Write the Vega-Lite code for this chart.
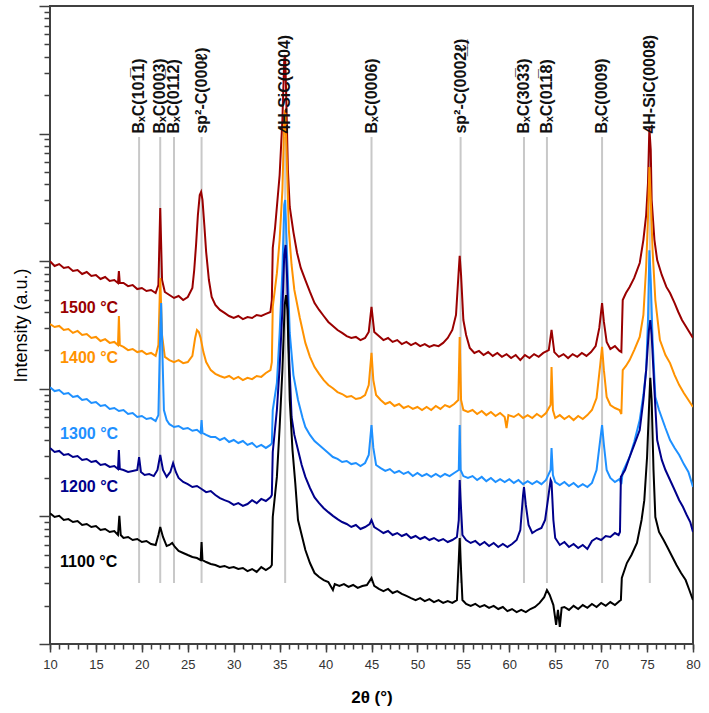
{
"$schema": "https://vega.github.io/schema/vega-lite/v6.json",
"width": 643, "height": 638,
"autosize": {"type": "none"},
"padding": {"left": 50, "top": 6, "right": 16, "bottom": 69},
"background": "white",
"config": {"view": {"stroke": "#404040", "strokeWidth": 2}, "font": "Liberation Sans", "axis": {"grid": false}},
"datasets": {
"curves": [
{"s":"1500 °C","t":10,"v":1000},{"s":"1500 °C","t":10.5,"v":917},{"s":"1500 °C","t":11,"v":950},{"s":"1500 °C","t":11.5,"v":885},{"s":"1500 °C","t":12,"v":901},{"s":"1500 °C","t":12.5,"v":838},{"s":"1500 °C","t":13,"v":853},{"s":"1500 °C","t":13.5,"v":794},{"s":"1500 °C","t":14,"v":823},{"s":"1500 °C","t":14.5,"v":766},{"s":"1500 °C","t":15,"v":780},{"s":"1500 °C","t":15.5,"v":725},{"s":"1500 °C","t":16,"v":752},{"s":"1500 °C","t":16.5,"v":700},{"s":"1500 °C","t":17,"v":712},{"s":"1500 °C","t":17.4,"v":675},{"s":"1500 °C","t":17.5,"v":838},{"s":"1500 °C","t":17.6,"v":675},{"s":"1500 °C","t":18,"v":675},{"s":"1500 °C","t":18.5,"v":638},{"s":"1500 °C","t":19,"v":651},{"s":"1500 °C","t":19.5,"v":605},{"s":"1500 °C","t":20,"v":617},{"s":"1500 °C","t":20.5,"v":584},{"s":"1500 °C","t":21,"v":595},{"s":"1500 °C","t":21.5,"v":563},{"s":"1500 °C","t":21.8,"v":651},{"s":"1500 °C","t":22,"v":2610},{"s":"1500 °C","t":22.2,"v":712},{"s":"1500 °C","t":22.5,"v":574},{"s":"1500 °C","t":23,"v":543},{"s":"1500 °C","t":23.5,"v":515},{"s":"1500 °C","t":24,"v":534},{"s":"1500 °C","t":24.5,"v":496},{"s":"1500 °C","t":25,"v":524},{"s":"1500 °C","t":25.5,"v":617},{"s":"1500 °C","t":25.7,"v":853},{"s":"1500 °C","t":25.9,"v":1340},{"s":"1500 °C","t":26.1,"v":2300},{"s":"1500 °C","t":26.3,"v":3300},{"s":"1500 °C","t":26.45,"v":3490},{"s":"1500 °C","t":26.6,"v":3020},{"s":"1500 °C","t":26.8,"v":1920},{"s":"1500 °C","t":27,"v":1180},{"s":"1500 °C","t":27.3,"v":712},{"s":"1500 °C","t":27.6,"v":524},{"s":"1500 °C","t":28,"v":454},{"s":"1500 °C","t":28.5,"v":415},{"s":"1500 °C","t":29,"v":393},{"s":"1500 °C","t":29.5,"v":372},{"s":"1500 °C","t":30,"v":359},{"s":"1500 °C","t":30.5,"v":372},{"s":"1500 °C","t":31,"v":352},{"s":"1500 °C","t":31.5,"v":365},{"s":"1500 °C","t":32,"v":359},{"s":"1500 °C","t":32.5,"v":379},{"s":"1500 °C","t":33,"v":372},{"s":"1500 °C","t":33.5,"v":386},{"s":"1500 °C","t":34,"v":400},{"s":"1500 °C","t":34.15,"v":496},{"s":"1500 °C","t":34.25,"v":1270},{"s":"1500 °C","t":34.5,"v":1820},{"s":"1500 °C","t":35,"v":4740},{"s":"1500 °C","t":35.3,"v":12800},{"s":"1500 °C","t":35.5,"v":37800},{"s":"1500 °C","t":35.6,"v":41300},{"s":"1500 °C","t":35.7,"v":22000},{"s":"1500 °C","t":35.9,"v":5190},{"s":"1500 °C","t":36.1,"v":2660},{"s":"1500 °C","t":36.5,"v":1690},{"s":"1500 °C","t":36.9,"v":1160},{"s":"1500 °C","t":37.3,"v":885},{"s":"1500 °C","t":37.8,"v":712},{"s":"1500 °C","t":38.3,"v":574},{"s":"1500 °C","t":38.8,"v":470},{"s":"1500 °C","t":39.3,"v":415},{"s":"1500 °C","t":39.8,"v":372},{"s":"1500 °C","t":40.3,"v":334},{"s":"1500 °C","t":40.8,"v":311},{"s":"1500 °C","t":41.3,"v":289},{"s":"1500 °C","t":41.8,"v":274},{"s":"1500 °C","t":42.3,"v":259},{"s":"1500 °C","t":42.8,"v":250},{"s":"1500 °C","t":43.3,"v":255},{"s":"1500 °C","t":43.8,"v":241},{"s":"1500 °C","t":44.3,"v":250},{"s":"1500 °C","t":44.7,"v":279},{"s":"1500 °C","t":45,"v":438},{"s":"1500 °C","t":45.3,"v":279},{"s":"1500 °C","t":45.8,"v":259},{"s":"1500 °C","t":46.3,"v":241},{"s":"1500 °C","t":46.8,"v":250},{"s":"1500 °C","t":47.3,"v":233},{"s":"1500 °C","t":47.8,"v":241},{"s":"1500 °C","t":48.3,"v":224},{"s":"1500 °C","t":48.8,"v":233},{"s":"1500 °C","t":49.3,"v":220},{"s":"1500 °C","t":49.8,"v":229},{"s":"1500 °C","t":50.3,"v":216},{"s":"1500 °C","t":50.8,"v":224},{"s":"1500 °C","t":51.3,"v":213},{"s":"1500 °C","t":51.8,"v":220},{"s":"1500 °C","t":52.3,"v":216},{"s":"1500 °C","t":52.8,"v":229},{"s":"1500 °C","t":53.3,"v":250},{"s":"1500 °C","t":53.8,"v":289},{"s":"1500 °C","t":54.2,"v":379},{"s":"1500 °C","t":54.5,"v":853},{"s":"1500 °C","t":54.6,"v":1100},{"s":"1500 °C","t":54.75,"v":780},{"s":"1500 °C","t":55,"v":346},{"s":"1500 °C","t":55.3,"v":264},{"s":"1500 °C","t":55.7,"v":209},{"s":"1500 °C","t":56.2,"v":191},{"s":"1500 °C","t":56.7,"v":198},{"s":"1500 °C","t":57.2,"v":184},{"s":"1500 °C","t":57.7,"v":194},{"s":"1500 °C","t":58.2,"v":181},{"s":"1500 °C","t":58.7,"v":191},{"s":"1500 °C","t":59.2,"v":178},{"s":"1500 °C","t":59.7,"v":187},{"s":"1500 °C","t":60.2,"v":174},{"s":"1500 °C","t":60.7,"v":184},{"s":"1500 °C","t":61.2,"v":168},{"s":"1500 °C","t":61.7,"v":184},{"s":"1500 °C","t":62.2,"v":174},{"s":"1500 °C","t":62.7,"v":187},{"s":"1500 °C","t":63.2,"v":178},{"s":"1500 °C","t":63.7,"v":191},{"s":"1500 °C","t":64.3,"v":201},{"s":"1500 °C","t":64.6,"v":289},{"s":"1500 °C","t":64.9,"v":194},{"s":"1500 °C","t":65.4,"v":178},{"s":"1500 °C","t":65.9,"v":187},{"s":"1500 °C","t":66.4,"v":174},{"s":"1500 °C","t":66.9,"v":187},{"s":"1500 °C","t":67.4,"v":178},{"s":"1500 °C","t":67.9,"v":191},{"s":"1500 °C","t":68.4,"v":181},{"s":"1500 °C","t":68.9,"v":194},{"s":"1500 °C","t":69.4,"v":216},{"s":"1500 °C","t":69.8,"v":300},{"s":"1500 °C","t":70.1,"v":470},{"s":"1500 °C","t":70.3,"v":334},{"s":"1500 °C","t":70.6,"v":233},{"s":"1500 °C","t":71,"v":205},{"s":"1500 °C","t":71.5,"v":216},{"s":"1500 °C","t":72,"v":198},{"s":"1500 °C","t":72.2,"v":194},{"s":"1500 °C","t":72.35,"v":496},{"s":"1500 °C","t":72.7,"v":563},{"s":"1500 °C","t":73.1,"v":629},{"s":"1500 °C","t":73.6,"v":739},{"s":"1500 °C","t":74.2,"v":968},{"s":"1500 °C","t":74.6,"v":1470},{"s":"1500 °C","t":74.9,"v":2300},{"s":"1500 °C","t":75.1,"v":4100},{"s":"1500 °C","t":75.25,"v":11100},{"s":"1500 °C","t":75.4,"v":7440},{"s":"1500 °C","t":75.5,"v":3020},{"s":"1500 °C","t":75.8,"v":1470},{"s":"1500 °C","t":76.1,"v":1020},{"s":"1500 °C","t":76.6,"v":780},{"s":"1500 °C","t":77.1,"v":629},{"s":"1500 °C","t":77.5,"v":563},{"s":"1500 °C","t":78,"v":470},{"s":"1500 °C","t":78.4,"v":400},{"s":"1500 °C","t":78.8,"v":346},{"s":"1500 °C","t":79.2,"v":311},{"s":"1500 °C","t":79.6,"v":279},{"s":"1500 °C","t":80,"v":250},
{"s":"1400 °C","t":10,"v":322},{"s":"1400 °C","t":10.5,"v":305},{"s":"1400 °C","t":11,"v":311},{"s":"1400 °C","t":11.5,"v":289},{"s":"1400 °C","t":12,"v":294},{"s":"1400 °C","t":12.5,"v":274},{"s":"1400 °C","t":13,"v":284},{"s":"1400 °C","t":13.5,"v":264},{"s":"1400 °C","t":14,"v":269},{"s":"1400 °C","t":14.5,"v":250},{"s":"1400 °C","t":15,"v":255},{"s":"1400 °C","t":15.5,"v":237},{"s":"1400 °C","t":16,"v":245},{"s":"1400 °C","t":16.5,"v":229},{"s":"1400 °C","t":17,"v":233},{"s":"1400 °C","t":17.4,"v":220},{"s":"1400 °C","t":17.5,"v":372},{"s":"1400 °C","t":17.6,"v":220},{"s":"1400 °C","t":18,"v":213},{"s":"1400 °C","t":18.5,"v":201},{"s":"1400 °C","t":19,"v":205},{"s":"1400 °C","t":19.5,"v":194},{"s":"1400 °C","t":20,"v":198},{"s":"1400 °C","t":20.5,"v":187},{"s":"1400 °C","t":21,"v":191},{"s":"1400 °C","t":21.5,"v":181},{"s":"1400 °C","t":21.8,"v":220},{"s":"1400 °C","t":22,"v":739},{"s":"1400 °C","t":22.2,"v":264},{"s":"1400 °C","t":22.5,"v":178},{"s":"1400 °C","t":23,"v":168},{"s":"1400 °C","t":23.5,"v":162},{"s":"1400 °C","t":24,"v":168},{"s":"1400 °C","t":24.5,"v":159},{"s":"1400 °C","t":25,"v":162},{"s":"1400 °C","t":25.5,"v":181},{"s":"1400 °C","t":25.8,"v":250},{"s":"1400 °C","t":26,"v":289},{"s":"1400 °C","t":26.2,"v":279},{"s":"1400 °C","t":26.4,"v":250},{"s":"1400 °C","t":26.7,"v":194},{"s":"1400 °C","t":27,"v":162},{"s":"1400 °C","t":27.5,"v":140},{"s":"1400 °C","t":28,"v":131},{"s":"1400 °C","t":28.5,"v":126},{"s":"1400 °C","t":29,"v":122},{"s":"1400 °C","t":29.5,"v":126},{"s":"1400 °C","t":30,"v":119},{"s":"1400 °C","t":30.5,"v":124},{"s":"1400 °C","t":31,"v":117},{"s":"1400 °C","t":31.5,"v":122},{"s":"1400 °C","t":32,"v":119},{"s":"1400 °C","t":32.5,"v":126},{"s":"1400 °C","t":33,"v":124},{"s":"1400 °C","t":33.5,"v":133},{"s":"1400 °C","t":34,"v":140},{"s":"1400 °C","t":34.15,"v":162},{"s":"1400 °C","t":34.25,"v":438},{"s":"1400 °C","t":34.7,"v":806},{"s":"1400 °C","t":35,"v":1470},{"s":"1400 °C","t":35.3,"v":3620},{"s":"1400 °C","t":35.5,"v":12800},{"s":"1400 °C","t":35.6,"v":15300},{"s":"1400 °C","t":35.75,"v":7440},{"s":"1400 °C","t":36,"v":1760},{"s":"1400 °C","t":36.3,"v":934},{"s":"1400 °C","t":36.6,"v":595},{"s":"1400 °C","t":37.2,"v":359},{"s":"1400 °C","t":37.8,"v":229},{"s":"1400 °C","t":38.3,"v":178},{"s":"1400 °C","t":38.8,"v":148},{"s":"1400 °C","t":39.3,"v":131},{"s":"1400 °C","t":39.8,"v":117},{"s":"1400 °C","t":40.3,"v":107},{"s":"1400 °C","t":40.8,"v":101},{"s":"1400 °C","t":41.3,"v":94.3},{"s":"1400 °C","t":41.8,"v":91.0},{"s":"1400 °C","t":42.3,"v":86.3},{"s":"1400 °C","t":42.8,"v":87.9},{"s":"1400 °C","t":43.3,"v":83.2},{"s":"1400 °C","t":43.8,"v":84.7},{"s":"1400 °C","t":44.3,"v":89.4},{"s":"1400 °C","t":44.7,"v":107},{"s":"1400 °C","t":45,"v":191},{"s":"1400 °C","t":45.2,"v":117},{"s":"1400 °C","t":45.5,"v":89.4},{"s":"1400 °C","t":46,"v":81.7},{"s":"1400 °C","t":46.5,"v":76.0},{"s":"1400 °C","t":47,"v":78.8},{"s":"1400 °C","t":47.5,"v":73.3},{"s":"1400 °C","t":48,"v":76.0},{"s":"1400 °C","t":48.5,"v":70.7},{"s":"1400 °C","t":49,"v":73.3},{"s":"1400 °C","t":49.5,"v":69.5},{"s":"1400 °C","t":50,"v":72.0},{"s":"1400 °C","t":50.5,"v":68.2},{"s":"1400 °C","t":51,"v":72.0},{"s":"1400 °C","t":51.5,"v":68.2},{"s":"1400 °C","t":52,"v":73.3},{"s":"1400 °C","t":52.5,"v":69.5},{"s":"1400 °C","t":53,"v":74.6},{"s":"1400 °C","t":53.5,"v":72.0},{"s":"1400 °C","t":54,"v":76.0},{"s":"1400 °C","t":54.45,"v":81.7},{"s":"1400 °C","t":54.6,"v":255},{"s":"1400 °C","t":54.75,"v":81.7},{"s":"1400 °C","t":55,"v":68.2},{"s":"1400 °C","t":55.5,"v":65.8},{"s":"1400 °C","t":56,"v":68.2},{"s":"1400 °C","t":56.5,"v":63.5},{"s":"1400 °C","t":57,"v":67.0},{"s":"1400 °C","t":57.5,"v":62.2},{"s":"1400 °C","t":58,"v":65.8},{"s":"1400 °C","t":58.5,"v":61.2},{"s":"1400 °C","t":59,"v":64.6},{"s":"1400 °C","t":59.5,"v":60.1},{"s":"1400 °C","t":59.7,"v":49.3},{"s":"1400 °C","t":59.9,"v":62.2},{"s":"1400 °C","t":60.5,"v":60.1},{"s":"1400 °C","t":61,"v":63.5},{"s":"1400 °C","t":61.5,"v":59.0},{"s":"1400 °C","t":62,"v":62.2},{"s":"1400 °C","t":62.5,"v":59.0},{"s":"1400 °C","t":63,"v":63.5},{"s":"1400 °C","t":63.5,"v":60.1},{"s":"1400 °C","t":64,"v":64.6},{"s":"1400 °C","t":64.5,"v":74.6},{"s":"1400 °C","t":64.6,"v":148},{"s":"1400 °C","t":64.75,"v":68.2},{"s":"1400 °C","t":65,"v":59.0},{"s":"1400 °C","t":65.5,"v":62.2},{"s":"1400 °C","t":66,"v":58.0},{"s":"1400 °C","t":66.5,"v":61.2},{"s":"1400 °C","t":67,"v":56.9},{"s":"1400 °C","t":67.5,"v":61.2},{"s":"1400 °C","t":68,"v":58.0},{"s":"1400 °C","t":68.5,"v":62.2},{"s":"1400 °C","t":69,"v":68.2},{"s":"1400 °C","t":69.5,"v":84.7},{"s":"1400 °C","t":69.9,"v":154},{"s":"1400 °C","t":70.1,"v":213},{"s":"1400 °C","t":70.3,"v":140},{"s":"1400 °C","t":70.6,"v":86.3},{"s":"1400 °C","t":71,"v":74.6},{"s":"1400 °C","t":71.5,"v":70.7},{"s":"1400 °C","t":72,"v":68.2},{"s":"1400 °C","t":72.2,"v":63.5},{"s":"1400 °C","t":72.35,"v":140},{"s":"1400 °C","t":72.7,"v":151},{"s":"1400 °C","t":73.1,"v":168},{"s":"1400 °C","t":73.6,"v":201},{"s":"1400 °C","t":74.2,"v":255},{"s":"1400 °C","t":74.6,"v":379},{"s":"1400 °C","t":74.9,"v":901},{"s":"1400 °C","t":75.1,"v":2190},{"s":"1400 °C","t":75.25,"v":5470},{"s":"1400 °C","t":75.4,"v":3020},{"s":"1400 °C","t":75.6,"v":1220},{"s":"1400 °C","t":75.9,"v":496},{"s":"1400 °C","t":76.4,"v":241},{"s":"1400 °C","t":77,"v":184},{"s":"1400 °C","t":77.5,"v":159},{"s":"1400 °C","t":78,"v":128},{"s":"1400 °C","t":78.5,"v":107},{"s":"1400 °C","t":79,"v":92.7},{"s":"1400 °C","t":79.5,"v":81.7},{"s":"1400 °C","t":80,"v":72.0},
{"s":"1300 °C","t":10,"v":103},{"s":"1300 °C","t":10.5,"v":96.0},{"s":"1300 °C","t":11,"v":97.8},{"s":"1300 °C","t":11.5,"v":91.0},{"s":"1300 °C","t":12,"v":92.7},{"s":"1300 °C","t":12.5,"v":86.3},{"s":"1300 °C","t":13,"v":87.9},{"s":"1300 °C","t":13.5,"v":81.7},{"s":"1300 °C","t":14,"v":83.2},{"s":"1300 °C","t":14.5,"v":77.4},{"s":"1300 °C","t":15,"v":78.8},{"s":"1300 °C","t":15.5,"v":73.3},{"s":"1300 °C","t":16,"v":74.6},{"s":"1300 °C","t":16.5,"v":69.5},{"s":"1300 °C","t":17,"v":70.7},{"s":"1300 °C","t":17.5,"v":67.0},{"s":"1300 °C","t":18,"v":68.2},{"s":"1300 °C","t":18.5,"v":63.5},{"s":"1300 °C","t":19,"v":64.6},{"s":"1300 °C","t":19.5,"v":60.1},{"s":"1300 °C","t":20,"v":61.2},{"s":"1300 °C","t":20.5,"v":58.0},{"s":"1300 °C","t":21,"v":59.0},{"s":"1300 °C","t":21.5,"v":55.9},{"s":"1300 °C","t":21.8,"v":62.2},{"s":"1300 °C","t":22,"v":289},{"s":"1300 °C","t":22.1,"v":470},{"s":"1300 °C","t":22.2,"v":241},{"s":"1300 °C","t":22.4,"v":68.2},{"s":"1300 °C","t":22.7,"v":56.9},{"s":"1300 °C","t":23,"v":52.8},{"s":"1300 °C","t":23.5,"v":50.2},{"s":"1300 °C","t":24,"v":51.1},{"s":"1300 °C","t":24.5,"v":48.5},{"s":"1300 °C","t":25,"v":49.3},{"s":"1300 °C","t":25.5,"v":46.9},{"s":"1300 °C","t":26,"v":47.7},{"s":"1300 °C","t":26.4,"v":45.1},{"s":"1300 °C","t":26.5,"v":56.9},{"s":"1300 °C","t":26.6,"v":45.1},{"s":"1300 °C","t":27,"v":43.5},{"s":"1300 °C","t":27.5,"v":41.9},{"s":"1300 °C","t":28,"v":41.9},{"s":"1300 °C","t":28.5,"v":39.7},{"s":"1300 °C","t":29,"v":41.2},{"s":"1300 °C","t":29.5,"v":38.3},{"s":"1300 °C","t":30,"v":39.7},{"s":"1300 °C","t":30.5,"v":37.6},{"s":"1300 °C","t":31,"v":39.0},{"s":"1300 °C","t":31.5,"v":36.3},{"s":"1300 °C","t":32,"v":37.6},{"s":"1300 °C","t":32.5,"v":34.9},{"s":"1300 °C","t":33,"v":36.3},{"s":"1300 °C","t":33.5,"v":34.4},{"s":"1300 °C","t":34,"v":36.3},{"s":"1300 °C","t":34.15,"v":37.6},{"s":"1300 °C","t":34.25,"v":68.2},{"s":"1300 °C","t":34.7,"v":111},{"s":"1300 °C","t":35,"v":274},{"s":"1300 °C","t":35.3,"v":853},{"s":"1300 °C","t":35.5,"v":2760},{"s":"1300 °C","t":35.6,"v":3020},{"s":"1300 °C","t":35.75,"v":1470},{"s":"1300 °C","t":36.1,"v":274},{"s":"1300 °C","t":36.5,"v":128},{"s":"1300 °C","t":37,"v":81.7},{"s":"1300 °C","t":37.5,"v":59.0},{"s":"1300 °C","t":37.8,"v":50.2},{"s":"1300 °C","t":38.3,"v":43.5},{"s":"1300 °C","t":38.8,"v":39.0},{"s":"1300 °C","t":39.3,"v":36.3},{"s":"1300 °C","t":39.8,"v":33.8},{"s":"1300 °C","t":40.3,"v":31.4},{"s":"1300 °C","t":40.8,"v":29.2},{"s":"1300 °C","t":41.3,"v":28.2},{"s":"1300 °C","t":41.8,"v":26.7},{"s":"1300 °C","t":42.3,"v":27.2},{"s":"1300 °C","t":42.8,"v":25.7},{"s":"1300 °C","t":43.3,"v":26.2},{"s":"1300 °C","t":43.8,"v":24.8},{"s":"1300 °C","t":44.3,"v":26.2},{"s":"1300 °C","t":44.7,"v":30.3},{"s":"1300 °C","t":45,"v":52.0},{"s":"1300 °C","t":45.2,"v":34.4},{"s":"1300 °C","t":45.5,"v":25.3},{"s":"1300 °C","t":46,"v":23.9},{"s":"1300 °C","t":46.5,"v":22.7},{"s":"1300 °C","t":47,"v":23.5},{"s":"1300 °C","t":47.5,"v":21.9},{"s":"1300 °C","t":48,"v":22.7},{"s":"1300 °C","t":48.5,"v":21.5},{"s":"1300 °C","t":49,"v":22.3},{"s":"1300 °C","t":49.5,"v":20.7},{"s":"1300 °C","t":50,"v":21.9},{"s":"1300 °C","t":50.5,"v":20.7},{"s":"1300 °C","t":51,"v":21.5},{"s":"1300 °C","t":51.5,"v":20.4},{"s":"1300 °C","t":52,"v":21.5},{"s":"1300 °C","t":52.5,"v":20.4},{"s":"1300 °C","t":53,"v":21.5},{"s":"1300 °C","t":53.5,"v":20.7},{"s":"1300 °C","t":54,"v":21.9},{"s":"1300 °C","t":54.5,"v":23.1},{"s":"1300 °C","t":54.6,"v":52.0},{"s":"1300 °C","t":54.7,"v":23.1},{"s":"1300 °C","t":55,"v":20.7},{"s":"1300 °C","t":55.5,"v":20.0},{"s":"1300 °C","t":56,"v":20.7},{"s":"1300 °C","t":56.5,"v":19.3},{"s":"1300 °C","t":57,"v":20.4},{"s":"1300 °C","t":57.5,"v":18.9},{"s":"1300 °C","t":58,"v":20.0},{"s":"1300 °C","t":58.5,"v":18.6},{"s":"1300 °C","t":59,"v":19.6},{"s":"1300 °C","t":59.5,"v":18.6},{"s":"1300 °C","t":60,"v":19.6},{"s":"1300 °C","t":60.5,"v":18.3},{"s":"1300 °C","t":61,"v":19.3},{"s":"1300 °C","t":61.5,"v":17.9},{"s":"1300 °C","t":62,"v":18.9},{"s":"1300 °C","t":62.5,"v":17.9},{"s":"1300 °C","t":63,"v":18.9},{"s":"1300 °C","t":63.5,"v":17.9},{"s":"1300 °C","t":64,"v":19.3},{"s":"1300 °C","t":64.5,"v":23.1},{"s":"1300 °C","t":64.6,"v":34.4},{"s":"1300 °C","t":64.75,"v":21.1},{"s":"1300 °C","t":65,"v":18.6},{"s":"1300 °C","t":65.5,"v":17.6},{"s":"1300 °C","t":66,"v":18.6},{"s":"1300 °C","t":66.5,"v":17.3},{"s":"1300 °C","t":67,"v":18.3},{"s":"1300 °C","t":67.5,"v":17.0},{"s":"1300 °C","t":68,"v":17.9},{"s":"1300 °C","t":68.5,"v":17.0},{"s":"1300 °C","t":69,"v":18.3},{"s":"1300 °C","t":69.5,"v":23.1},{"s":"1300 °C","t":69.9,"v":39.7},{"s":"1300 °C","t":70.1,"v":52.0},{"s":"1300 °C","t":70.3,"v":36.3},{"s":"1300 °C","t":70.6,"v":23.1},{"s":"1300 °C","t":71,"v":20.0},{"s":"1300 °C","t":71.5,"v":18.6},{"s":"1300 °C","t":72,"v":19.6},{"s":"1300 °C","t":72.2,"v":17.9},{"s":"1300 °C","t":72.35,"v":22.3},{"s":"1300 °C","t":72.7,"v":25.3},{"s":"1300 °C","t":73.1,"v":29.2},{"s":"1300 °C","t":73.6,"v":38.3},{"s":"1300 °C","t":74.2,"v":56.9},{"s":"1300 °C","t":74.6,"v":89.4},{"s":"1300 °C","t":74.9,"v":140},{"s":"1300 °C","t":75.1,"v":346},{"s":"1300 °C","t":75.25,"v":1220},{"s":"1300 °C","t":75.4,"v":712},{"s":"1300 °C","t":75.6,"v":241},{"s":"1300 °C","t":75.9,"v":86.3},{"s":"1300 °C","t":76.3,"v":68.2},{"s":"1300 °C","t":77,"v":49.3},{"s":"1300 °C","t":77.5,"v":39.7},{"s":"1300 °C","t":78,"v":34.4},{"s":"1300 °C","t":78.5,"v":30.3},{"s":"1300 °C","t":79,"v":25.7},{"s":"1300 °C","t":79.5,"v":22.3},{"s":"1300 °C","t":80,"v":17.0},
{"s":"1200 °C","t":10,"v":34.4},{"s":"1200 °C","t":10.5,"v":32.0},{"s":"1200 °C","t":11,"v":32.6},{"s":"1200 °C","t":11.5,"v":30.3},{"s":"1200 °C","t":12,"v":30.8},{"s":"1200 °C","t":12.5,"v":29.2},{"s":"1200 °C","t":13,"v":29.7},{"s":"1200 °C","t":13.5,"v":27.7},{"s":"1200 °C","t":14,"v":28.2},{"s":"1200 °C","t":14.5,"v":26.7},{"s":"1200 °C","t":15,"v":27.2},{"s":"1200 °C","t":15.5,"v":25.3},{"s":"1200 °C","t":16,"v":25.7},{"s":"1200 °C","t":16.5,"v":24.4},{"s":"1200 °C","t":17,"v":24.8},{"s":"1200 °C","t":17.4,"v":23.5},{"s":"1200 °C","t":17.5,"v":33.1},{"s":"1200 °C","t":17.6,"v":23.5},{"s":"1200 °C","t":18,"v":23.1},{"s":"1200 °C","t":18.5,"v":22.3},{"s":"1200 °C","t":19,"v":22.7},{"s":"1200 °C","t":19.5,"v":23.1},{"s":"1200 °C","t":19.7,"v":29.2},{"s":"1200 °C","t":19.9,"v":22.3},{"s":"1200 °C","t":20.3,"v":21.1},{"s":"1200 °C","t":20.8,"v":21.5},{"s":"1200 °C","t":21.3,"v":20.7},{"s":"1200 °C","t":21.7,"v":23.1},{"s":"1200 °C","t":22,"v":30.3},{"s":"1200 °C","t":22.3,"v":23.1},{"s":"1200 °C","t":22.7,"v":20.4},{"s":"1200 °C","t":23.1,"v":22.3},{"s":"1200 °C","t":23.4,"v":26.2},{"s":"1200 °C","t":23.7,"v":22.3},{"s":"1200 °C","t":24,"v":20.0},{"s":"1200 °C","t":24.5,"v":18.6},{"s":"1200 °C","t":25,"v":17.9},{"s":"1200 °C","t":25.5,"v":17.0},{"s":"1200 °C","t":26,"v":17.3},{"s":"1200 °C","t":26.5,"v":16.4},{"s":"1200 °C","t":27,"v":15.5},{"s":"1200 °C","t":27.5,"v":15.8},{"s":"1200 °C","t":28,"v":14.7},{"s":"1200 °C","t":28.5,"v":13.9},{"s":"1200 °C","t":29,"v":13.4},{"s":"1200 °C","t":29.5,"v":13.0},{"s":"1200 °C","t":30,"v":12.3},{"s":"1200 °C","t":30.5,"v":12.7},{"s":"1200 °C","t":31,"v":12.1},{"s":"1200 °C","t":31.5,"v":12.5},{"s":"1200 °C","t":32,"v":13.4},{"s":"1200 °C","t":32.5,"v":12.7},{"s":"1200 °C","t":33,"v":13.7},{"s":"1200 °C","t":33.5,"v":13.2},{"s":"1200 °C","t":34,"v":14.1},{"s":"1200 °C","t":34.15,"v":14.7},{"s":"1200 °C","t":34.25,"v":32.0},{"s":"1200 °C","t":34.7,"v":68.2},{"s":"1200 °C","t":35,"v":148},{"s":"1200 °C","t":35.3,"v":415},{"s":"1200 °C","t":35.5,"v":1120},{"s":"1200 °C","t":35.65,"v":1340},{"s":"1200 °C","t":35.8,"v":780},{"s":"1200 °C","t":36,"v":201},{"s":"1200 °C","t":36.3,"v":60.1},{"s":"1200 °C","t":36.6,"v":43.5},{"s":"1200 °C","t":37,"v":33.1},{"s":"1200 °C","t":37.4,"v":25.3},{"s":"1200 °C","t":37.8,"v":20.4},{"s":"1200 °C","t":38.3,"v":16.7},{"s":"1200 °C","t":38.8,"v":14.1},{"s":"1200 °C","t":39.3,"v":12.7},{"s":"1200 °C","t":39.8,"v":11.6},{"s":"1200 °C","t":40.3,"v":10.8},{"s":"1200 °C","t":40.8,"v":10.1},{"s":"1200 °C","t":41.3,"v":9.52},{"s":"1200 °C","t":41.8,"v":9.04},{"s":"1200 °C","t":42.3,"v":8.72},{"s":"1200 °C","t":42.8,"v":8.26},{"s":"1200 °C","t":43.3,"v":8.56},{"s":"1200 °C","t":43.8,"v":7.97},{"s":"1200 °C","t":44.3,"v":8.26},{"s":"1200 °C","t":44.8,"v":8.72},{"s":"1200 °C","t":45,"v":9.37},{"s":"1200 °C","t":45.3,"v":8.26},{"s":"1200 °C","t":45.8,"v":7.82},{"s":"1200 °C","t":46.3,"v":7.41},{"s":"1200 °C","t":46.8,"v":7.68},{"s":"1200 °C","t":47.3,"v":7.15},{"s":"1200 °C","t":47.8,"v":7.41},{"s":"1200 °C","t":48.3,"v":7.02},{"s":"1200 °C","t":48.8,"v":7.28},{"s":"1200 °C","t":49.3,"v":6.77},{"s":"1200 °C","t":49.8,"v":7.02},{"s":"1200 °C","t":50.3,"v":6.65},{"s":"1200 °C","t":50.8,"v":6.90},{"s":"1200 °C","t":51.3,"v":6.53},{"s":"1200 °C","t":51.8,"v":6.77},{"s":"1200 °C","t":52.3,"v":6.42},{"s":"1200 °C","t":52.8,"v":6.65},{"s":"1200 °C","t":53.3,"v":6.30},{"s":"1200 °C","t":53.8,"v":6.53},{"s":"1200 °C","t":54.3,"v":6.90},{"s":"1200 °C","t":54.5,"v":9.37},{"s":"1200 °C","t":54.6,"v":19.3},{"s":"1200 °C","t":54.7,"v":13.4},{"s":"1200 °C","t":54.9,"v":7.15},{"s":"1200 °C","t":55.3,"v":6.53},{"s":"1200 °C","t":55.8,"v":6.19},{"s":"1200 °C","t":56.3,"v":6.42},{"s":"1200 °C","t":56.8,"v":5.97},{"s":"1200 °C","t":57.3,"v":6.30},{"s":"1200 °C","t":57.8,"v":5.86},{"s":"1200 °C","t":58.3,"v":6.19},{"s":"1200 °C","t":58.8,"v":5.76},{"s":"1200 °C","t":59.3,"v":6.08},{"s":"1200 °C","t":59.8,"v":5.76},{"s":"1200 °C","t":60.3,"v":6.08},{"s":"1200 °C","t":60.8,"v":6.53},{"s":"1200 °C","t":61.2,"v":7.82},{"s":"1200 °C","t":61.5,"v":14.7},{"s":"1200 °C","t":61.6,"v":17.0},{"s":"1200 °C","t":61.8,"v":12.3},{"s":"1200 °C","t":62.1,"v":8.56},{"s":"1200 °C","t":62.5,"v":7.41},{"s":"1200 °C","t":63,"v":7.82},{"s":"1200 °C","t":63.5,"v":8.11},{"s":"1200 °C","t":63.9,"v":9.37},{"s":"1200 °C","t":64.2,"v":13.4},{"s":"1200 °C","t":64.5,"v":19.3},{"s":"1200 °C","t":64.6,"v":18.6},{"s":"1200 °C","t":64.8,"v":9.37},{"s":"1200 °C","t":65,"v":6.77},{"s":"1200 °C","t":65.5,"v":5.97},{"s":"1200 °C","t":66,"v":6.30},{"s":"1200 °C","t":66.5,"v":5.76},{"s":"1200 °C","t":67,"v":6.08},{"s":"1200 °C","t":67.5,"v":5.65},{"s":"1200 °C","t":68,"v":5.97},{"s":"1200 °C","t":68.5,"v":5.56},{"s":"1200 °C","t":69,"v":6.42},{"s":"1200 °C","t":69.5,"v":6.77},{"s":"1200 °C","t":70,"v":6.53},{"s":"1200 °C","t":70.5,"v":7.02},{"s":"1200 °C","t":71,"v":6.90},{"s":"1200 °C","t":71.5,"v":7.41},{"s":"1200 °C","t":71.9,"v":7.15},{"s":"1200 °C","t":72.05,"v":7.55},{"s":"1200 °C","t":72.15,"v":20.4},{"s":"1200 °C","t":72.6,"v":23.1},{"s":"1200 °C","t":73.1,"v":29.2},{"s":"1200 °C","t":73.6,"v":36.3},{"s":"1200 °C","t":74.2,"v":47.5},{"s":"1200 °C","t":74.6,"v":81.7},{"s":"1200 °C","t":74.9,"v":140},{"s":"1200 °C","t":75.2,"v":289},{"s":"1200 °C","t":75.35,"v":346},{"s":"1200 °C","t":75.5,"v":264},{"s":"1200 °C","t":75.8,"v":97.8},{"s":"1200 °C","t":76.1,"v":39.7},{"s":"1200 °C","t":76.6,"v":27.7},{"s":"1200 °C","t":77,"v":23.1},{"s":"1200 °C","t":77.5,"v":19.3},{"s":"1200 °C","t":78,"v":16.1},{"s":"1200 °C","t":78.5,"v":13.4},{"s":"1200 °C","t":78.9,"v":11.9},{"s":"1200 °C","t":79.3,"v":10.3},{"s":"1200 °C","t":79.7,"v":9.04},{"s":"1200 °C","t":80,"v":7.55},
{"s":"1100 °C","t":10,"v":10.6},{"s":"1100 °C","t":10.5,"v":9.89},{"s":"1100 °C","t":11,"v":10.1},{"s":"1100 °C","t":11.5,"v":9.37},{"s":"1100 °C","t":12,"v":9.52},{"s":"1100 °C","t":12.5,"v":9.04},{"s":"1100 °C","t":13,"v":9.20},{"s":"1100 °C","t":13.5,"v":8.56},{"s":"1100 °C","t":14,"v":8.72},{"s":"1100 °C","t":14.5,"v":8.26},{"s":"1100 °C","t":15,"v":8.41},{"s":"1100 °C","t":15.5,"v":7.82},{"s":"1100 °C","t":16,"v":7.97},{"s":"1100 °C","t":16.5,"v":7.55},{"s":"1100 °C","t":17,"v":7.68},{"s":"1100 °C","t":17.4,"v":7.15},{"s":"1100 °C","t":17.55,"v":10.1},{"s":"1100 °C","t":17.7,"v":7.15},{"s":"1100 °C","t":18,"v":6.77},{"s":"1100 °C","t":18.5,"v":6.90},{"s":"1100 °C","t":19,"v":6.53},{"s":"1100 °C","t":19.5,"v":6.65},{"s":"1100 °C","t":20,"v":6.30},{"s":"1100 °C","t":20.5,"v":6.42},{"s":"1100 °C","t":21,"v":6.08},{"s":"1100 °C","t":21.5,"v":5.97},{"s":"1100 °C","t":21.8,"v":7.15},{"s":"1100 °C","t":22,"v":8.26},{"s":"1100 °C","t":22.3,"v":6.90},{"s":"1100 °C","t":22.7,"v":5.86},{"s":"1100 °C","t":23,"v":5.97},{"s":"1100 °C","t":23.3,"v":6.19},{"s":"1100 °C","t":23.6,"v":5.76},{"s":"1100 °C","t":24,"v":5.36},{"s":"1100 °C","t":24.5,"v":5.17},{"s":"1100 °C","t":25,"v":4.98},{"s":"1100 °C","t":25.5,"v":4.81},{"s":"1100 °C","t":26,"v":4.72},{"s":"1100 °C","t":26.4,"v":4.55},{"s":"1100 °C","t":26.5,"v":6.30},{"s":"1100 °C","t":26.6,"v":4.55},{"s":"1100 °C","t":27,"v":4.39},{"s":"1100 °C","t":27.5,"v":4.24},{"s":"1100 °C","t":28,"v":4.16},{"s":"1100 °C","t":28.5,"v":4.01},{"s":"1100 °C","t":29,"v":4.09},{"s":"1100 °C","t":29.5,"v":3.94},{"s":"1100 °C","t":30,"v":4.01},{"s":"1100 °C","t":30.5,"v":3.87},{"s":"1100 °C","t":31,"v":3.94},{"s":"1100 °C","t":31.5,"v":3.73},{"s":"1100 °C","t":32,"v":3.87},{"s":"1100 °C","t":32.5,"v":3.67},{"s":"1100 °C","t":33,"v":4.01},{"s":"1100 °C","t":33.5,"v":3.80},{"s":"1100 °C","t":34,"v":4.01},{"s":"1100 °C","t":34.15,"v":4.16},{"s":"1100 °C","t":34.25,"v":9.89},{"s":"1100 °C","t":34.7,"v":20.4},{"s":"1100 °C","t":35,"v":50.2},{"s":"1100 °C","t":35.3,"v":140},{"s":"1100 °C","t":35.55,"v":454},{"s":"1100 °C","t":35.7,"v":543},{"s":"1100 °C","t":35.85,"v":415},{"s":"1100 °C","t":36.1,"v":81.7},{"s":"1100 °C","t":36.4,"v":33.1},{"s":"1100 °C","t":36.7,"v":18.3},{"s":"1100 °C","t":37,"v":9.37},{"s":"1100 °C","t":37.4,"v":7.15},{"s":"1100 °C","t":37.8,"v":5.45},{"s":"1100 °C","t":38.3,"v":4.31},{"s":"1100 °C","t":38.8,"v":3.60},{"s":"1100 °C","t":39.3,"v":3.35},{"s":"1100 °C","t":39.8,"v":3.17},{"s":"1100 °C","t":40.3,"v":3.06},{"s":"1100 °C","t":40.8,"v":2.65},{"s":"1100 °C","t":41,"v":2.95},{"s":"1100 °C","t":41.5,"v":2.85},{"s":"1100 °C","t":42,"v":2.95},{"s":"1100 °C","t":42.5,"v":2.80},{"s":"1100 °C","t":43,"v":2.90},{"s":"1100 °C","t":43.5,"v":2.75},{"s":"1100 °C","t":44,"v":2.85},{"s":"1100 °C","t":44.5,"v":2.90},{"s":"1100 °C","t":45,"v":3.29},{"s":"1100 °C","t":45.3,"v":2.85},{"s":"1100 °C","t":45.8,"v":2.70},{"s":"1100 °C","t":46.3,"v":2.60},{"s":"1100 °C","t":46.8,"v":2.70},{"s":"1100 °C","t":47.3,"v":2.51},{"s":"1100 °C","t":47.8,"v":2.60},{"s":"1100 °C","t":48.3,"v":2.47},{"s":"1100 °C","t":48.8,"v":2.38},{"s":"1100 °C","t":49.3,"v":2.29},{"s":"1100 °C","t":49.8,"v":2.21},{"s":"1100 °C","t":50.3,"v":2.29},{"s":"1100 °C","t":50.8,"v":2.17},{"s":"1100 °C","t":51.3,"v":2.25},{"s":"1100 °C","t":51.8,"v":2.13},{"s":"1100 °C","t":52.3,"v":2.21},{"s":"1100 °C","t":52.8,"v":2.10},{"s":"1100 °C","t":53.3,"v":2.17},{"s":"1100 °C","t":53.8,"v":2.10},{"s":"1100 °C","t":54.3,"v":2.21},{"s":"1100 °C","t":54.5,"v":4.55},{"s":"1100 °C","t":54.6,"v":6.77},{"s":"1100 °C","t":54.7,"v":4.55},{"s":"1100 °C","t":54.9,"v":2.21},{"s":"1100 °C","t":55.3,"v":2.06},{"s":"1100 °C","t":55.8,"v":1.99},{"s":"1100 °C","t":56.3,"v":2.06},{"s":"1100 °C","t":56.8,"v":1.95},{"s":"1100 °C","t":57.3,"v":2.02},{"s":"1100 °C","t":57.8,"v":1.92},{"s":"1100 °C","t":58.3,"v":1.99},{"s":"1100 °C","t":58.8,"v":1.88},{"s":"1100 °C","t":59.3,"v":1.95},{"s":"1100 °C","t":59.8,"v":1.81},{"s":"1100 °C","t":60.3,"v":1.88},{"s":"1100 °C","t":60.8,"v":1.78},{"s":"1100 °C","t":61.3,"v":1.85},{"s":"1100 °C","t":61.8,"v":1.78},{"s":"1100 °C","t":62.3,"v":1.88},{"s":"1100 °C","t":62.8,"v":1.95},{"s":"1100 °C","t":63.3,"v":2.10},{"s":"1100 °C","t":63.8,"v":2.33},{"s":"1100 °C","t":64.1,"v":2.65},{"s":"1100 °C","t":64.4,"v":2.42},{"s":"1100 °C","t":64.8,"v":2.02},{"s":"1100 °C","t":65.1,"v":1.41},{"s":"1100 °C","t":65.3,"v":1.85},{"s":"1100 °C","t":65.5,"v":1.36},{"s":"1100 °C","t":65.7,"v":1.92},{"s":"1100 °C","t":66,"v":1.95},{"s":"1100 °C","t":66.5,"v":1.85},{"s":"1100 °C","t":67,"v":1.99},{"s":"1100 °C","t":67.5,"v":1.88},{"s":"1100 °C","t":68,"v":2.02},{"s":"1100 °C","t":68.5,"v":1.92},{"s":"1100 °C","t":69,"v":2.06},{"s":"1100 °C","t":69.5,"v":1.95},{"s":"1100 °C","t":70,"v":2.10},{"s":"1100 °C","t":70.5,"v":1.99},{"s":"1100 °C","t":71,"v":2.13},{"s":"1100 °C","t":71.5,"v":2.02},{"s":"1100 °C","t":72,"v":2.17},{"s":"1100 °C","t":72.15,"v":2.21},{"s":"1100 °C","t":72.25,"v":3.29},{"s":"1100 °C","t":72.8,"v":4.31},{"s":"1100 °C","t":73.3,"v":4.98},{"s":"1100 °C","t":73.9,"v":6.19},{"s":"1100 °C","t":74.4,"v":9.37},{"s":"1100 °C","t":74.7,"v":13.4},{"s":"1100 °C","t":75,"v":29.2},{"s":"1100 °C","t":75.2,"v":68.2},{"s":"1100 °C","t":75.35,"v":122},{"s":"1100 °C","t":75.5,"v":81.7},{"s":"1100 °C","t":75.7,"v":23.1},{"s":"1100 °C","t":75.9,"v":9.89},{"s":"1100 °C","t":76.3,"v":7.55},{"s":"1100 °C","t":76.8,"v":6.53},{"s":"1100 °C","t":77.2,"v":5.76},{"s":"1100 °C","t":77.7,"v":4.89},{"s":"1100 °C","t":78.2,"v":4.16},{"s":"1100 °C","t":78.7,"v":3.60},{"s":"1100 °C","t":79.2,"v":3.17},{"s":"1100 °C","t":79.6,"v":2.65},{"s":"1100 °C","t":80,"v":2.21}
],
"peaks": [
{"t":19.7,"lab":"B\u2093C(101\u03051)"},
{"t":22.0,"lab":"B\u2093C(0003)"},
{"t":23.5,"lab":"B\u2093C(011\u03052)"},
{"t":26.5,"lab":"sp\u00b2-C(000\u2113)"},
{"t":35.6,"lab":"4H-SiC(0004)"},
{"t":45.0,"lab":"B\u2093C(0006)"},
{"t":54.7,"lab":"sp\u00b2-C(0002\u0332\u2113\u0332)"},
{"t":61.6,"lab":"B\u2093C(303\u03053)"},
{"t":64.1,"lab":"B\u2093C(011\u03058)"},
{"t":70.1,"lab":"B\u2093C(0009)"},
{"t":75.3,"lab":"4H-SiC(0008)"}
],
"temps": [
{"s":"1500 °C","v":393},
{"s":"1400 °C","v":159},
{"s":"1300 °C","v":40.3},
{"s":"1200 °C","v":15.5},
{"s":"1100 °C","v":4.01}
]
},
"layer": [
{
"data": {"name": "peaks"},
"mark": {"type": "rule", "color": "#c8c8c8", "strokeWidth": 2},
"encoding": {
"x": {"field": "t", "type": "quantitative",
 "scale": {"domain": [10, 80], "nice": false, "zero": false},
 "axis": {"orient": "bottom", "values": [10,11,12,13,14,15,16,17,18,19,20,21,22,23,24,25,26,27,28,29,30,31,32,33,34,35,36,37,38,39,40,41,42,43,44,45,46,47,48,49,50,51,52,53,54,55,56,57,58,59,60,61,62,63,64,65,66,67,68,69,70,71,72,73,74,75,76,77,78,79,80],
  "labels": false, "domain": false, "tickSize": 5, "tickWidth": 1.5, "tickColor": "#404040", "title": null, "grid": false}},
"y": {"datum": 3, "type": "quantitative",
 "scale": {"type": "log", "domain": [1, 100000], "nice": false},
 "axis": {"orient": "left", "values": [2,3,4,5,6,7,8,9,20,30,40,50,60,70,80,90,200,300,400,500,600,700,800,900,2000,3000,4000,5000,6000,7000,8000,9000,20000,30000,40000,50000,60000,70000,80000,90000],
  "labels": false, "domain": false, "tickSize": 6, "tickWidth": 1.5, "tickColor": "#404040", "title": null, "grid": false}},
"y2": {"datum": 9400}
}
},
{
"data": {"name": "curves"},
"mark": {"type": "line", "strokeWidth": 2, "clip": true},
"encoding": {
"x": {"field": "t", "type": "quantitative",
 "axis": {"orient": "bottom", "values": [10,15,20,25,30,35,40,45,50,55,60,65,70,75,80],
  "domain": false, "tickSize": 8, "tickWidth": 1.5, "tickColor": "#404040",
  "labelFontSize": 13, "labelColor": "#333333", "labelPadding": 6, "labelFlush": false, "labelOverlap": false,
  "title": "2θ (°)", "titleFontSize": 17, "titleFontWeight": "bold", "titleColor": "#000000", "titlePadding": 18, "grid": false}},
"y": {"field": "v", "type": "quantitative",
 "axis": {"orient": "left", "values": [1,10,100,1000,10000,100000],
  "labels": false, "domain": false, "tickSize": 11, "tickWidth": 1.5, "tickColor": "#404040",
  "title": "Intensity (a.u.)", "titleFontSize": 18, "titleFontWeight": "normal", "titleColor": "#000000", "titlePadding": 8, "grid": false}},
"color": {"field": "s", "type": "nominal",
 "scale": {"domain": ["1500 °C", "1400 °C", "1300 °C", "1200 °C", "1100 °C"], "range": ["#9a0000", "#ff9200", "#1e90ff", "#00008b", "#000000"]},
 "legend": null}
}
},
{
"data": {"name": "peaks"},
"mark": {"type": "text", "angle": 270, "align": "left", "baseline": "middle", "fontSize": 16, "fontWeight": "bold", "color": "#111111"},
"encoding": {
"x": {"field": "t", "type": "quantitative", "axis": null},
"y": {"datum": 10000, "type": "quantitative", "axis": null},
"text": {"field": "lab"}
}
},
{
"data": {"name": "temps"},
"mark": {"type": "text", "align": "left", "baseline": "alphabetic", "fontSize": 16, "fontWeight": "bold"},
"encoding": {
"x": {"datum": 11.1, "type": "quantitative", "axis": null},
"y": {"field": "v", "type": "quantitative", "axis": null},
"text": {"field": "s"},
"color": {"field": "s", "type": "nominal", "legend": null}
}
}
],
"resolve": {"axis": {"x": "independent", "y": "independent"}}
}
